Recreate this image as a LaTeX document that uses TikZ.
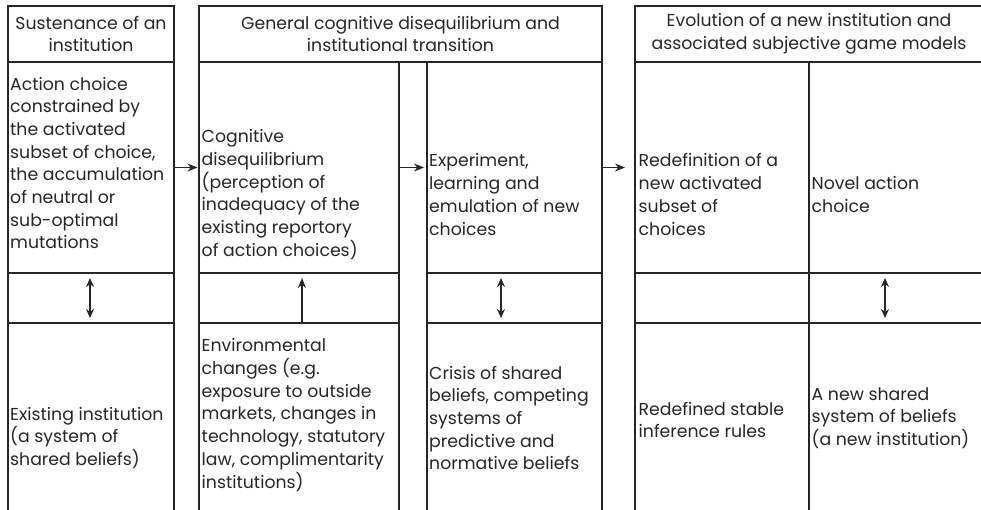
\documentclass[tikz,border=0pt]{standalone}
\usepackage{fontspec}
\setmainfont{Poppins}
\usetikzlibrary{arrows.meta}
\definecolor{ink}{HTML}{262626}
\newcommand\ftext{\fontsize{17.3}{22.7}\selectfont}
\begin{document}
\begin{tikzpicture}[x=1pt,y=-1pt,
  cell/.style={draw=ink, line width=1.5pt, inner sep=0pt, outer sep=0pt, anchor=north west},
  head/.style={draw=ink, line width=2.8pt, inner sep=0pt, outer sep=0pt, anchor=north west, align=center, font=\ftext, text=ink},
  txt/.style={anchor=west, align=left, inner sep=0pt, text=ink, font=\ftext},
  arr/.style={-{Stealth[length=10pt,width=8pt]}, line width=1.4pt, draw=ink},
  darr/.style={{Stealth[length=9pt,width=8pt]}-{Stealth[length=9pt,width=8pt]}, line width=1.4pt, draw=ink, shorten <=5pt, shorten >=5pt}]
\useasboundingbox (0,0) rectangle (981,510);
% headers
\node[head, minimum width=166pt, minimum height=56pt] (h1) at (8,6) {Sustenance of an\\institution};
\node[head, minimum width=403pt, minimum height=56pt] (h2) at (199,6) {General cognitive disequilibrium and\\institutional transition};
\node[head, minimum width=348pt, minimum height=56pt] (h3) at (635,6) {Evolution of a new institution and\\associated subjective game models};
% column 1
\node[cell, minimum width=166pt, minimum height=211pt] (c1t) at (8,62) {};
\node[cell, minimum width=166pt, minimum height=50pt] (c1m) at (8,273) {};
\node[cell, minimum width=166pt, minimum height=190pt] (c1b) at (8,323) {};
% column 2 left
\node[cell, minimum width=200pt, minimum height=211pt] (c2Lt) at (199,62) {};
\node[cell, minimum width=200pt, minimum height=50pt] (c2Lm) at (199,273) {};
\node[cell, minimum width=200pt, minimum height=190pt] (c2Lb) at (199,323) {};
% column 2 right
\node[cell, minimum width=175pt, minimum height=211pt] (c2Rt) at (427,62) {};
\node[cell, minimum width=175pt, minimum height=50pt] (c2Rm) at (427,273) {};
\node[cell, minimum width=175pt, minimum height=190pt] (c2Rb) at (427,323) {};
% column 3 left
\node[cell, minimum width=174pt, minimum height=211pt] (c3Lt) at (635,62) {};
\node[cell, minimum width=174pt, minimum height=50pt] (c3Lm) at (635,273) {};
\node[cell, minimum width=174pt, minimum height=190pt] (c3Lb) at (635,323) {};
% column 3 right
\node[cell, minimum width=175pt, minimum height=211pt] (c3Rt) at (809,62) {};
\node[cell, minimum width=175pt, minimum height=50pt] (c3Rm) at (809,273) {};
\node[cell, minimum width=175pt, minimum height=190pt] (c3Rb) at (809,323) {};
% texts
\node[txt] (t1) at (10,163) {Action choice\\constrained by\\the activated\\subset of choice,\\the accumulation\\of neutral or\\sub-optimal\\mutations};
\node[txt] (t2) at (201.5,194.5) {Cognitive\\disequilibrium\\(perception of\\inadequacy of the\\existing reportory\\of action choices)};
\node[txt] (t3) at (429,194.5) {Experiment,\\learning and\\emulation of new\\choices};
\node[txt] (t4) at (638.5,194.5) {Redefinition of a\\new activated\\subset of\\choices};
\node[txt] (t5) at (811.5,194.5) {Novel action\\choice};
\node[txt] (b1) at (10,438) {Existing institution\\(a system of\\shared beliefs)};
\node[txt] (b2) at (201.5,415) {Environmental\\changes (e.g.\\exposure to outside\\markets, changes in\\technology, statutory\\law, complimentarity\\institutions)};
\node[txt] (b3) at (429,418) {Crisis of shared\\beliefs, competing\\systems of\\predictive and\\normative beliefs};
\node[txt] (b4) at (638.5,420) {Redefined stable\\inference rules};
\node[txt] (b5) at (811.5,418) {A new shared\\system of beliefs\\(a new institution)};
% arrows
\draw[arr, shorten >=1.5pt] (c1t.east) -- (c2Lt.west);
\draw[arr, shorten >=3pt] (c2Lt.east) -- (c2Rt.west);
\draw[arr, shorten >=10pt] (c2Rt.east) -- (c3Lt.west);
\draw[darr] ([xshift=-1pt]c1t.south) -- ([xshift=-1pt]c1b.north);
\draw[arr, shorten >=5pt] ([xshift=3pt]c2Lb.north) -- ([xshift=3pt]c2Lt.south);
\draw[darr] ([xshift=-13.5pt]c2Rt.south) -- ([xshift=-13.5pt]c2Rb.north);
\draw[darr] ([xshift=-11.5pt]c3Rt.south) -- ([xshift=-11.5pt]c3Rb.north);
\end{tikzpicture}
\end{document}
